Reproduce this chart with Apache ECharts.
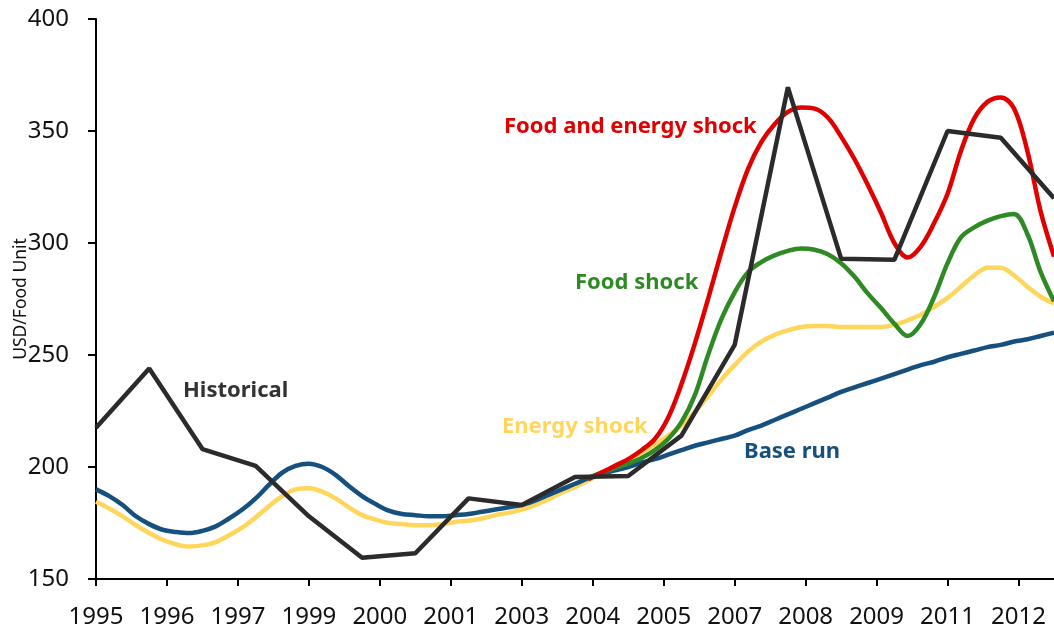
<!DOCTYPE html>
<html>
<head>
<meta charset="utf-8">
<title>Food price scenarios</title>
<script src="https://cdn.jsdelivr.net/npm/echarts@6/dist/echarts.min.js"></script>
<style>
    html, body { margin: 0; padding: 0; background: #fff; }
    #chart { width: 1054px; height: 627px; }
</style>
</head>
<body>
<div id="chart"></div>
<script>
    // monthly axis Jan 1995 .. Jan 2013, labelled with the year only
    var startYear = 1995, monthCount = 217;
    var categories = [];
    for (var i = 0; i < monthCount; i++) {
        categories.push(String(startYear + Math.floor(i / 12)));
    }
    var yTicks = [150, 200, 250, 300, 350, 400];

    // annual observations (January of each year, 1995..2013)
    var historical = [217.5, 244, 208, 200.5, 178, 159.5, 161.5, 186, 183, 195.5,
        196, 214, 254.5, 369.5, 293, 292.5, 350, 347, 320];

    // model runs, read every 3 months from Jan 1995
    var baseRun = [190, 187, 183, 178, 174.5, 172, 171, 170.5, 171.5, 173.5, 177, 181,
        186, 192, 197.5, 200.5, 201.5, 200, 196.5, 191.5, 187, 183.5, 180.5, 179,
        178.5, 178, 178, 178.5, 179, 180, 181, 182, 183, 185, 187.5, 190,
        192.5, 195, 197, 198.5, 200, 202, 203.5, 205.5, 207.5, 209.5, 211, 212.5,
        214, 216.5, 218.5, 221, 223.5, 226, 228.5, 231, 233.5, 235.5, 237.5, 239.5,
        241.5, 243.5, 245.5, 247, 249, 250.5, 252, 253.5, 254.5, 256, 257, 258.5, 260];
    var energyShock = [184.5, 181.5, 178, 174, 170.5, 167.5, 165.5, 164.5, 165, 166.5, 169.5, 173,
        177.5, 182.5, 187, 190, 190.5, 189, 186, 182, 178.5, 176.5, 175, 174.5,
        174, 174, 174.5, 175.5, 176, 177, 178.5, 179.5, 181, 183, 185.5, 188.5,
        191, 194, 197, 200, 203, 206.5, 210, 214, 218.5, 224.5, 231.5, 239,
        245.5, 251.5, 256, 259, 261, 262.5, 263, 263, 262.5, 262.5, 262.5, 262.5,
        263.5, 265.5, 268, 271.5, 275.5, 280.5, 285.5, 289, 289, 285.5, 280.5, 276, 273];

    // shock runs split from the others in spring 2004 (month 111), every 3 months
    var shockStart = 111;
    var foodShock = [195, 197.5, 199.5, 201.5, 204, 207.5, 212.5, 220, 232, 250, 266, 278,
        287, 291.5, 294.5, 296.5, 297.5, 297, 295, 291, 285, 277.5, 271, 264,
        258.5, 264, 276, 291, 302.5, 307, 310, 312, 313, 304, 287, 274];
    var foodEnergyShock = [194.5, 197.5, 200.5, 203.5, 207.5, 212.5, 222, 237, 255, 275, 296, 316,
        333, 345, 353, 358.5, 360.5, 360, 356, 347.5, 337.5, 326, 313.5, 300,
        293.5, 298.5, 309, 322, 341, 355.5, 363, 365, 360, 341, 314, 294];

    function pairs(values, first, step) {
        return values.map(function (v, k) { return [first + k * step, v]; });
    }

    var font = '"Noto Sans", "Open Sans", sans-serif';
    var el = document.getElementById('chart');
    var myChart = echarts.init(el);

    function line(name, color, data, width, smooth, z) {
        return {
            name: name,
            type: 'line',
            data: data,
            smooth: smooth,
            showSymbol: false,
            symbol: 'none',
            z: z,
            lineStyle: { color: color, width: width },
            itemStyle: { color: color }
        };
    }

    function tag(text, x, y, color) {
        return {
            type: 'text',
            x: x,
            y: y,
            z: 100,
            style: {
                text: text,
                fill: color,
                font: 'bold 22px ' + font,
                align: 'left',
                verticalAlign: 'middle'
            }
        };
    }

    var option = {
        backgroundColor: '#fff',
        animation: false,
        grid: {
            left: 96,
            right: 0,
            top: 19,
            bottom: 48,
            containLabel: false,
            outerBoundsMode: 'none'
        },
        xAxis: {
            type: 'category',
            data: categories,
            boundaryGap: false,
            axisLine: { show: true, lineStyle: { color: '#000', width: 2 } },
            axisTick: { show: true, interval: 15, length: 7, lineStyle: { color: '#000', width: 2 } },
            axisLabel: {
                interval: 15,
                margin: 26,
                color: '#111',
                fontSize: 24,
                fontFamily: font
            },
            splitLine: { show: false }
        },
        yAxis: {
            type: 'value',
            min: yTicks[0],
            max: yTicks[yTicks.length - 1],
            interval: 50,
            name: 'USD/Food Unit',
            nameLocation: 'middle',
            nameGap: 66,
            nameMoveOverlap: false,
            nameTextStyle: { color: '#111', fontSize: 17.5, fontFamily: font },
            axisLine: { show: true, lineStyle: { color: '#000', width: 2 } },
            axisTick: { show: true, length: 8, lineStyle: { color: '#000', width: 2 } },
            axisLabel: { margin: 27, color: '#111', fontSize: 24, fontFamily: font },
            splitLine: { show: false }
        },
        series: [
            line('Energy shock', '#ffd65c', pairs(energyShock, 0, 3), 4.5, 0.35, 2),
            line('Base run', '#15507f', pairs(baseRun, 0, 3), 4.5, 0.35, 3),
            line('Food shock', '#2f8a25', pairs(foodShock, shockStart, 3), 4.5, 0.35, 4),
            line('Food and energy shock', '#e10000', pairs(foodEnergyShock, shockStart, 3), 4.5, 0.35, 5),
            line('Historical', '#2b2b2b', pairs(historical, 0, 12), 4.5, false, 6)
        ],
        graphic: [
            tag('Historical', 183, 391, '#333333'),
            tag('Food and energy shock', 504, 127, '#e10000'),
            tag('Food shock', 575, 283, '#2f8a25'),
            tag('Energy shock', 502, 427, '#ffd65c'),
            tag('Base run', 744, 452, '#15507f')
        ]
    };
    myChart.setOption(option);
</script>
</body>
</html>
